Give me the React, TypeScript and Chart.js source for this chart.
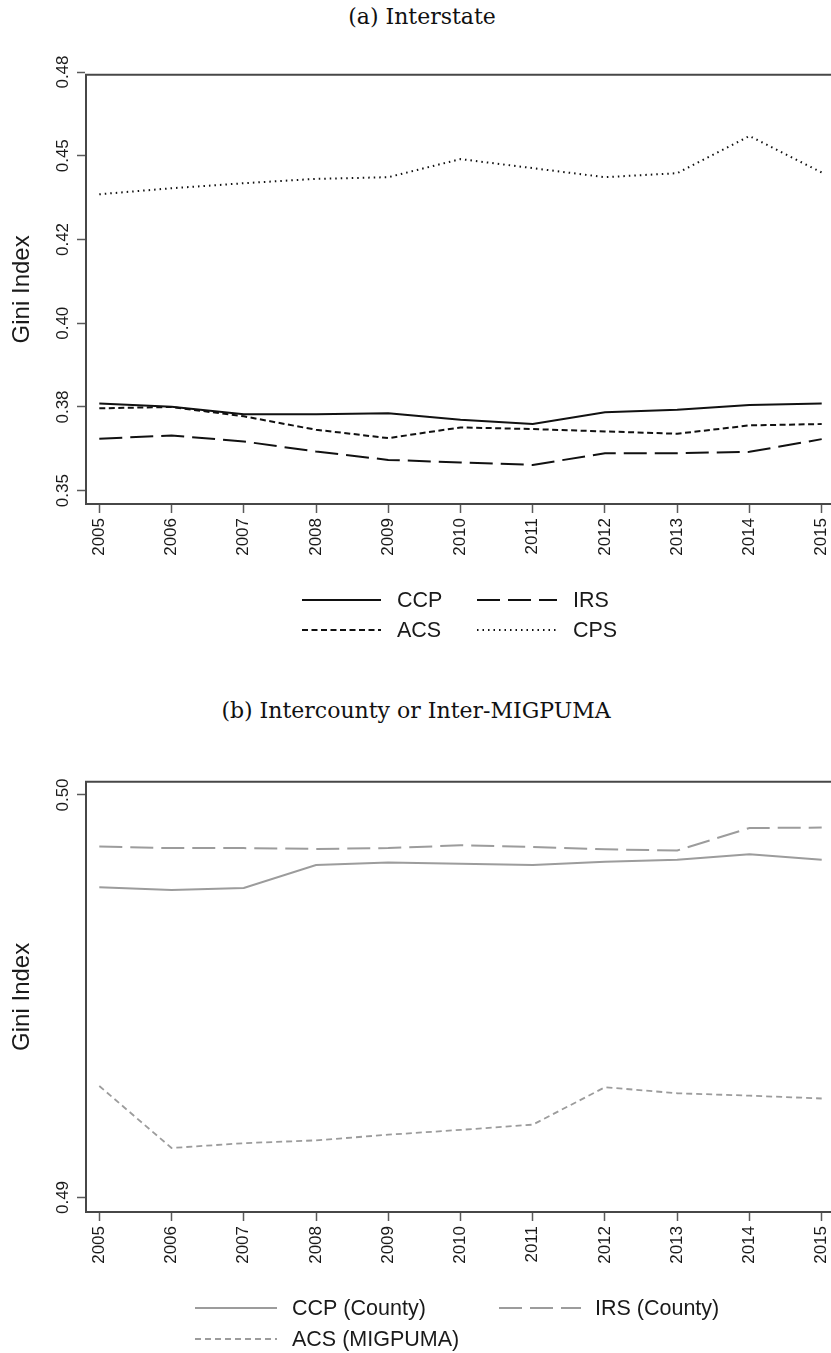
import React, { useEffect, useRef } from "react";
import { Chart, registerables } from "chart.js";

Chart.register(...registerables);

// ---------- data ----------
const years = [2005, 2006, 2007, 2008, 2009, 2010, 2011, 2012, 2013, 2014, 2015];

// Panel (a) Interstate
const yTicksA = [0.35, 0.375, 0.4, 0.425, 0.45, 0.475];
const yTickLabelsA = ["0.35", "0.38", "0.40", "0.42", "0.45", "0.48"];
const ccpA = [0.376, 0.3751, 0.3728, 0.3728, 0.3731, 0.3712, 0.3699, 0.3734, 0.3742, 0.3756, 0.376];
const irsA = [0.3655, 0.3665, 0.3647, 0.3617, 0.3592, 0.3584, 0.3577, 0.3612, 0.3612, 0.3616, 0.3654];
const acsA = [0.3746, 0.375, 0.3722, 0.3682, 0.3657, 0.3689, 0.3684, 0.3677, 0.367, 0.3695, 0.3699];
const cpsA = [0.4385, 0.4403, 0.4418, 0.4431, 0.4436, 0.449, 0.4463, 0.4436, 0.4448, 0.4559, 0.445];

// Panel (b) Intercounty or Inter-MIGPUMA
const yTicksB = [0.49, 0.5];
const yTickLabelsB = ["0.49", "0.50"];
const ccpB = [0.49771, 0.49764, 0.49769, 0.49826, 0.49832, 0.49829, 0.49826, 0.49834, 0.49839, 0.49853, 0.49839];
const irsB = [0.49872, 0.49868, 0.49868, 0.49866, 0.49868, 0.49875, 0.49871, 0.49865, 0.49862, 0.49918, 0.49919];
const acsB = [0.49277, 0.49123, 0.49135, 0.49142, 0.49156, 0.49168, 0.49181, 0.49274, 0.49259, 0.49253, 0.49246];

// ---------- styling ----------
const SANS = '"Liberation Sans", Arial, Helvetica, sans-serif';
const SERIF = '"DejaVu Serif", "Liberation Serif", serif';
const TEXT = "#1a1a1a";
const AXIS = "#474747";
const BLACK = "#111111";
const GRAY = "#9c9c9c";

const toXY = (vals: number[]) => vals.map((v, i) => ({ x: years[i], y: v }));

const yLabelPlugin = {
  id: "yRotLabels",
  afterDraw(chart: any, _args: any, opts: any) {
    const s = chart.scales.y;
    const ctx = chart.ctx;
    ctx.save();
    ctx.fillStyle = TEXT;
    ctx.font = `17px ${SANS}`;
    ctx.textAlign = "center";
    ctx.textBaseline = "middle";
    opts.values.forEach((v: number, i: number) => {
      const py = s.getPixelForValue(v);
      ctx.save();
      ctx.translate(opts.x, py);
      ctx.rotate(-Math.PI / 2);
      ctx.fillText(opts.labels[i], 0, 0);
      ctx.restore();
    });
    ctx.restore();
  },
};

const framePlugin = {
  id: "topFrame",
  afterDraw(chart: any) {
    const { ctx, chartArea } = chart;
    ctx.save();
    ctx.strokeStyle = AXIS;
    ctx.lineWidth = 2;
    ctx.beginPath();
    ctx.moveTo(chartArea.left - 1, chartArea.top);
    ctx.lineTo(chart.width, chartArea.top);
    ctx.stroke();
    ctx.restore();
  },
};

const legendPlugin = {
  id: "lineLegend",
  afterDraw(chart: any, _args: any, opts: any) {
    const ctx = chart.ctx;
    const base = chart.chartArea.bottom;
    opts.items.forEach((it: any) => {
      const ds = chart.data.datasets[it.index];
      const y = base + opts.rows[it.row];
      ctx.save();
      ctx.strokeStyle = ds.borderColor;
      ctx.lineWidth = ds.borderWidth;
      ctx.setLineDash(ds.borderDash || []);
      ctx.beginPath();
      ctx.moveTo(it.x1, y);
      ctx.lineTo(it.x2, y);
      ctx.stroke();
      ctx.setLineDash([]);
      ctx.fillStyle = TEXT;
      ctx.font = `21.5px ${SANS}`;
      ctx.textAlign = "left";
      ctx.textBaseline = "middle";
      ctx.fillText(ds.label, it.tx, y + 1);
      ctx.restore();
    });
  },
};

function makeConfig(p: any) {
  return {
    type: "line",
    data: { datasets: p.datasets },
    plugins: [yLabelPlugin, framePlugin, legendPlugin],
    options: {
      animation: false,
      responsive: false,
      maintainAspectRatio: false,
      layout: { padding: { top: p.padTop, left: 0, right: 5, bottom: 0 } },
      elements: { point: { radius: 0 }, line: { tension: 0 } },
      plugins: {
        legend: { display: false },
        tooltip: { enabled: false },
        yRotLabels: { values: p.yTicks, labels: p.yLabels, x: 63 },
        lineLegend: { items: p.legendItems, rows: p.legendRows },
      },
      scales: {
        x: {
          type: "linear",
          min: 2004.816,
          max: 2015.184,
          afterBuildTicks: (s: any) => {
            s.ticks = years.map((v) => ({ value: v }));
          },
          afterFit: (s: any) => {
            s.height = p.xHeight;
            s.paddingLeft = 0;
            s.paddingRight = 0;
          },
          ticks: {
            autoSkip: false,
            minRotation: 90,
            maxRotation: 90,
            padding: 5,
            color: TEXT,
            font: { family: SANS, size: 17 },
            callback: (v: any) => String(v),
          },
          grid: {
            display: true,
            drawOnChartArea: false,
            drawTicks: true,
            tickLength: 9,
            tickColor: "#5a5a5a",
            tickWidth: 1.5,
          },
          border: { display: true, color: AXIS, width: 2 },
        },
        y: {
          type: "linear",
          min: p.yMin,
          max: p.yMax,
          afterBuildTicks: (s: any) => {
            s.ticks = p.yTicks.map((v: number) => ({ value: v }));
          },
          afterFit: (s: any) => {
            s.width = 86;
            s.paddingTop = 0;
            s.paddingBottom = 0;
          },
          ticks: { display: false },
          grid: {
            display: true,
            drawOnChartArea: false,
            drawTicks: true,
            tickLength: 9,
            tickColor: "#5a5a5a",
            tickWidth: 1.5,
          },
          border: { display: true, color: AXIS, width: 2 },
          title: {
            display: true,
            text: "Gini Index",
            color: TEXT,
            font: { family: SANS, size: 24 },
            padding: { top: 7.6, bottom: 0 },
          },
        },
      },
    },
  };
}

function Panel(props: { cfg: any; top: number; height: number }) {
  const ref = useRef<HTMLCanvasElement | null>(null);
  useEffect(() => {
    if (!ref.current) return;
    const chart = new Chart(ref.current, props.cfg);
    return () => chart.destroy();
  }, []);
  return (
    <canvas
      ref={ref}
      width={840}
      height={props.height}
      style={{ position: "absolute", left: 0, top: props.top, width: 840, height: props.height, display: "block" }}
    />
  );
}

const cfgA = makeConfig({
  padTop: 34.7,
  xHeight: 156,
  yMin: 0.34603,
  yMax: 0.4742,
  yTicks: yTicksA,
  yLabels: yTickLabelsA,
  legendRows: [96, 126],
  legendItems: [
    { index: 0, row: 0, x1: 302, x2: 381, tx: 397 },
    { index: 1, row: 0, x1: 477, x2: 557, tx: 573 },
    { index: 2, row: 1, x1: 302, x2: 381, tx: 397 },
    { index: 3, row: 1, x1: 477, x2: 557, tx: 573 },
  ],
  datasets: [
    { label: "CCP", data: toXY(ccpA), borderColor: BLACK, borderWidth: 2, borderDash: [] },
    { label: "IRS", data: toXY(irsA), borderColor: BLACK, borderWidth: 2, borderDash: [23, 8] },
    { label: "ACS", data: toXY(acsA), borderColor: BLACK, borderWidth: 2, borderDash: [6, 3.5] },
    { label: "CPS", data: toXY(cpsA), borderColor: BLACK, borderWidth: 2, borderDash: [1.5, 4] },
  ],
});

const cfgB = makeConfig({
  padTop: 41.7,
  xHeight: 141,
  yMin: 0.48964,
  yMax: 0.50033,
  yTicks: yTicksB,
  yLabels: yTickLabelsB,
  legendRows: [96, 127],
  legendItems: [
    { index: 0, row: 0, x1: 195, x2: 277, tx: 292 },
    { index: 1, row: 0, x1: 499, x2: 581, tx: 595 },
    { index: 2, row: 1, x1: 195, x2: 277, tx: 292 },
  ],
  datasets: [
    { label: "CCP (County)", data: toXY(ccpB), borderColor: GRAY, borderWidth: 2, borderDash: [] },
    { label: "IRS (County)", data: toXY(irsB), borderColor: GRAY, borderWidth: 2, borderDash: [23, 8] },
    { label: "ACS (MIGPUMA)", data: toXY(acsB), borderColor: GRAY, borderWidth: 1.8, borderDash: [6, 4] },
  ],
});

export default function App() {
  const titleStyle = (center: number, top: number): React.CSSProperties => ({
    position: "absolute",
    left: center - 400,
    width: 800,
    top,
    textAlign: "center",
    fontFamily: SERIF,
    fontSize: 22,
    lineHeight: "24px",
    color: "#111",
    whiteSpace: "nowrap",
  });
  return (
    <div style={{ position: "absolute", left: 0, top: 0, width: 831, height: 1353, overflow: "hidden", background: "#fff" }}>
      <div style={titleStyle(422, 5)}>(a) Interstate</div>
      <Panel cfg={cfgA} top={40} height={620} />
      <div style={titleStyle(416, 699)}>(b) Intercounty or Inter-MIGPUMA</div>
      <Panel cfg={cfgB} top={740} height={613} />
    </div>
  );
}
